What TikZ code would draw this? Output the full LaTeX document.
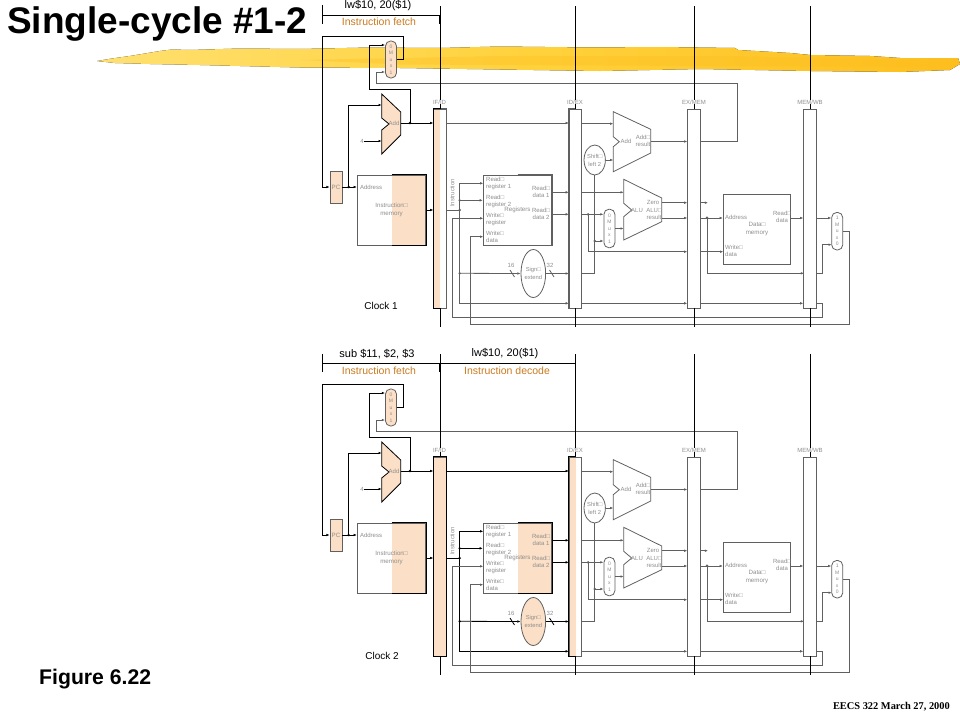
\documentclass[tikz,border=0pt]{standalone}
\usepackage{fontspec}
\setmainfont{Liberation Sans}
\newfontfamily\timesfont{Liberation Serif}
\usepackage{xcolor}
\usetikzlibrary{shapes.geometric, arrows.meta}
\definecolor{peach}{HTML}{FBDFC6}
\definecolor{wiregray}{HTML}{606060}
\definecolor{labgray}{HTML}{8E8E8E}
\definecolor{stagetext}{HTML}{C97A1E}
\definecolor{brushleft}{HTML}{FFE070}
\definecolor{brushmid}{HTML}{FFD23C}
\definecolor{brushright}{HTML}{FDBE1E}
\tikzstyle{line}=[line width=0.8pt,draw=wiregray]
\tikzstyle{wire}=[line,-{Latex[length=3.2pt,width=2.6pt]}]
\tikzstyle{dot}=[circle,fill=wiregray,draw=none,inner sep=0pt,minimum size=2.6pt]
\tikzstyle{lab}=[text=labgray,inner sep=0pt,align=center,font=\fontsize{6}{7}\selectfont]
\tikzstyle{muxlab}=[line,rounded corners=5pt,fill=peach,text=labgray,inner sep=0pt,align=center,minimum width=11pt,font=\fontsize{5}{6.5}\selectfont]
\tikzstyle{block}=[line,inner sep=0pt,text=labgray,align=center,font=\fontsize{6.2}{8}\selectfont]
\tikzstyle{pipereg}=[line,fill=white,inner sep=0pt,minimum width=12.5pt,minimum height=199pt]
\tikzstyle{oval}=[line,ellipse,inner sep=0pt,text=labgray,align=center,font=\fontsize{5.8}{8}\selectfont]
\tikzstyle{headline}=[inner sep=0pt,font=\fontsize{11}{13}\selectfont]
\tikzstyle{stage}=[inner sep=0pt,text=stagetext,font=\fontsize{10.5}{13}\selectfont]
\tikzset{halves/.style 2 args={path picture={
    \fill[#1] (path picture bounding box.north west) rectangle (path picture bounding box.south);
    \fill[#2] (path picture bounding box.north) rectangle (path picture bounding box.south east);}}}

% #1 name prefix, #2 colour of the decode wires, #3 fill of the decode units
\newcommand{\datapath}[3]{
    \node[pipereg,halves={peach}{#3}] (#1ifid) at (440,208.5) {};
    \node[pipereg,halves={#3}{white}] (#1idex) at (575.5,208.5) {};
    \node[pipereg] (#1exmem) at (694,208.5) {};
    \node[pipereg] (#1memwb) at (810,208.5) {};
    \node[lab,fill=white] (#1ifidlab) at (439.5,102) {IF/ID};
    \node[lab,fill=white] (#1idexlab) at (575,102) {ID/EX};
    \node[lab,fill=white] (#1exmemlab) at (694,102) {EX/MEM};
    \node[lab,fill=white] (#1memwblab) at (810,102) {MEM/WB};
    \draw[draw=black,line width=0.8pt] (#1ifid.north) -- (#1ifid.north west) -- (#1ifid.south west) -- (#1ifid.south);
    \draw[line,#2] (#1ifid.north) -- (#1ifid.north east) -- (#1ifid.south east) -- (#1ifid.south);
    \draw[line,#2] (#1idex.north) -- (#1idex.north west) -- (#1idex.south west) -- (#1idex.south);

    \node[block,fill=peach,minimum width=12pt,minimum height=32pt] (#1pc) at (336,187) {PC};
    \node[block,halves={white}{peach},minimum width=68.5pt,minimum height=70pt] (#1imem) at (391.5,210) {Instruction□\\memory};
    \node[block,halves={white}{#3},minimum width=68.5pt,minimum height=70pt] (#1regs) at (517.5,210.2) {Registers};
    \node[block,minimum width=67.5pt,minimum height=70pt] (#1dmem) at (757,229.3) {Data□\\memory};
    \node[muxlab,minimum height=37pt] (#1muxif) at (391,59.5) {0\\M\\u\\x\\1};
    \node[muxlab,minimum height=38.5pt,fill=white] (#1muxalu) at (609.4,228.5) {0\\M\\u\\x\\1};
    \node[muxlab,minimum height=37.5pt,fill=white] (#1muxwb) at (837.2,231.2) {1\\M\\u\\x\\0};
    \node[oval,fill=#3,minimum width=22pt,minimum height=48pt] (#1sign) at (533.3,273.5) {Sign□\\extend};
    \node[oval,fill=white,minimum width=19pt,minimum height=30pt] (#1shift) at (594.7,160) {Shift□\\left 2};
    \draw[draw=black,line width=0.8pt] (#1imem.north) -- (#1imem.north east) -- (#1imem.south east) -- (#1imem.south);
    \draw[line,#2] (#1regs.north) -- (#1regs.north east) -- (#1regs.south east) -- (#1regs.south);

    \draw[draw=black,line width=0.8pt,fill=peach] (381.7,94) -- (400.7,112) -- (400.7,135) -- (381.7,154) -- (381.7,130) -- (389,124) -- (381.7,118) -- cycle;
    \draw[line] (613.3,111.7) -- (650.7,129.3) -- (650.7,153) -- (613.3,171.7) -- (613.3,146.7) -- (619.3,141.7) -- (613.3,136.7) -- cycle;
    \draw[line] (623.7,179.3) -- (661.7,198) -- (661.7,221.7) -- (623.7,240) -- (623.7,216.7) -- (631.7,210) -- (623.7,203.3) -- cycle;

    \node[lab] (#1addiflab) at (394,123) {Add};
    \node[lab] (#1addexlab) at (626,141) {Add};
    \node[lab] (#1addreslab) at (643,141) {Add□\\result};
    \node[lab] (#1alulab) at (637,210) {ALU};
    \node[lab] (#1zerolab) at (653,202) {Zero};
    \node[lab] (#1alureslab) at (654,213.5) {ALU□\\result};
    \node[lab] (#1four) at (362,141) {4};
    \node[lab] (#1addrlab) at (371,187) {Address};
    \node[lab,anchor=west,align=left] (#1rr1lab) at (486,183) {Read□\\register 1};
    \node[lab,anchor=west,align=left] (#1rr2lab) at (486,201) {Read□\\register 2};
    \node[lab,anchor=west,align=left] (#1wrlab) at (486,219) {Write□\\register};
    \node[lab,anchor=west,align=left] (#1wdlab) at (486,236.5) {Write□\\data};
    \node[lab] (#1rd1lab) at (541,192) {Read□\\data 1};
    \node[lab] (#1rd2lab) at (541,214) {Read□\\data 2};
    \node[lab,rotate=90] (#1instlab) at (452.3,193) {Instruction};
    \node[lab] (#1b16) at (511,265) {16};
    \node[lab] (#1b32) at (550,265) {32};
    \node[lab] (#1maddr) at (736,217) {Address};
    \node[lab,anchor=west,align=left] (#1mwd) at (725,250.5) {Write□\\data};
    \node[lab] (#1mrd) at (782,217) {Read□\\data};

    \coordinate (#1addifa) at (381.7,105);
    \coordinate (#1addifb) at (381.7,141);
    \coordinate (#1addifout) at (400.7,123);
    \coordinate (#1addexa) at (613.3,123.7);
    \coordinate (#1addexb) at (613.3,160);
    \coordinate (#1addexout) at (650.7,141.5);
    \coordinate (#1alua) at (623.7,192.3);
    \coordinate (#1alub) at (623.7,228.5);
    \coordinate (#1zero) at (661.7,202.7);
    \coordinate (#1zeroend) at (708,202.7);
    \coordinate (#1res) at (661.7,218);
    \coordinate (#1pcadd) at (369.7,89);
    \coordinate (#1muxa) at (385,45);
    \coordinate (#1muxb) at (385,72);
    \coordinate (#1mo) at (403.5,36.5);
    \coordinate (#1loop) at (322,36.5);
    \coordinate (#1ret) at (737,83);
    \coordinate (#1retl) at (376.5,83);
    \coordinate (#1rr1) at (483.3,183.3);
    \coordinate (#1trbot) at (459.7,303.3);
    \coordinate (#1rd1) at (551.7,192.3);
    \coordinate (#1rd2) at (551.7,214.3);
    \coordinate (#1wd) at (723.3,251.7);
    \coordinate (#1rowb) at (804,273.3);
    \coordinate (#1wbk) at (822.7,244.7);
    \coordinate (#1muxwbb) at (831.7,244.7);
    \coordinate (#1wdr) at (849.7,324.5);
    \coordinate (#1wdl) at (470.3,324.5);
    \coordinate (#1wdata) at (483.3,236.7);
    \coordinate (#1wrr) at (822.7,317.3);
    \coordinate (#1wrl) at (452.3,317.3);
    \coordinate (#1wreg) at (483.3,218.3);

    \node[dot,fill=black] (#1jpc) at (348.7,187) {};
    \node[dot,fill=black] (#1jadd) at (410,123) {};
    \node[dot,fill=#2] (#1jinst) at (459.7,210) {};
    \node[dot,fill=#2] (#1jread) at (459.7,200.3) {};
    \node[dot,fill=#2] (#1jsign) at (459.7,273.3) {};
    \node[dot] (#1jrd) at (588,214.3) {};
    \node[dot] (#1jimm) at (594.7,241) {};
    \node[dot] (#1jres) at (707,217.7) {};

    % fetch
    \draw[wire,black] (#1muxif.east) -| (#1mo) -- (#1loop) |- (#1pc.west);
    \draw[wire,black] (#1pc) -- (#1imem.west |- #1pc);
    \draw[wire,black] (#1jpc.center) |- (#1addifa);
    \draw[wire,black] (#1four) -- (#1addifb);
    \draw[wire,black] (#1addifout) -- (#1ifid.west |- #1addifout);
    \draw[wire,black] (#1jadd.center) |- (#1pcadd) |- (#1muxa);
    \draw[wire,black] (#1imem.east) -- (#1ifid.west |- #1imem);

    % decode
    \draw[wire,#2] (#1ifid.east |- #1addifout) -- (#1idex.west |- #1addifout);
    \draw[line,#2] (#1ifid.east |- #1jinst) -- (#1jinst.center);
    \draw[wire,#2] (#1jinst.center) |- (#1rr1);
    \draw[wire,#2] (#1jread.center) -- (#1regs.west |- #1jread);
    \draw[wire,#2] (#1jinst.center) |- (#1idex.west |- #1trbot);
    \draw[wire,#2] (#1jsign.center) -- (#1sign.west);
    \draw[wire,#2] (#1sign.east) -- (#1idex.west |- #1sign);
    \draw[wire,#2] (#1rd1) -- (#1idex.west |- #1rd1);
    \draw[wire,#2] (#1rd2) -- (#1idex.west |- #1rd2);
    \draw[line,#2] (510,270) -- (514.5,277);
    \draw[line,#2] (549.5,270) -- (554,277);

    % execute
    \draw[wire] (#1idex.east |- #1addexa) -- (#1addexa);
    \draw[wire] (#1idex.east |- #1rd1) -- (#1alua);
    \draw[wire] (#1idex.east |- #1rd2) -- (#1muxalu.west |- #1rd2);
    \draw[wire] (#1jrd.center) |- (#1exmem.west |- #1wd);
    \draw[line] (#1idex.east |- #1jsign) -| (#1shift.south);
    \draw[wire] (#1jimm.center) -- (#1muxalu.west |- #1jimm);
    \draw[wire] (#1shift.east) -- (#1addexb);
    \draw[wire] (#1muxalu.east) -- (#1alub);
    \draw[wire] (#1addexout) -- (#1exmem.west |- #1addexout);
    \draw[wire] (#1zero) -- (#1exmem.west |- #1zero);
    \draw[wire] (#1res) -- (#1exmem.west |- #1res);
    \draw[wire] (#1idex.east |- #1trbot) -- (#1exmem.west |- #1trbot);
    \draw[wire] (#1exmem.east |- #1addexout) -| (#1ret) -- (#1retl) |- (#1muxb);

    % memory and write back
    \draw[wire] (#1exmem.east |- #1zero) -- (#1zeroend);
    \draw[wire] (#1exmem.east |- #1res) -- (#1dmem.west |- #1res);
    \draw[wire] (#1exmem.east |- #1wd) -- (#1wd);
    \draw[wire] (#1jres.center) |- (#1rowb);
    \draw[wire] (#1exmem.east |- #1trbot) -- (#1memwb.west |- #1trbot);
    \draw[wire] (#1dmem.east |- #1res) -- (#1memwb.west |- #1res);
    \draw[wire] (#1memwb.east |- #1res) -- (#1muxwb.west |- #1res);
    \draw[wire] (#1memwb.east |- #1rowb) -| (#1wbk) -- (#1muxwbb);
    \draw[wire] (#1muxwb.east) -| (#1wdr) -- (#1wdl) |- (#1wdata);
    \draw[wire] (#1memwb.east |- #1trbot) -| (#1wrr) -- (#1wrl) |- (#1wreg);

    % pipeline stage lines
    \draw[draw=black,line width=0.8pt] (#1ifid.north |- #1ifidlab.south) -- (#1ifid.north);
    \draw[draw=black,line width=0.8pt] (#1idex.north |- #1idexlab.south) -- (#1idex.north);
    \draw[draw=black,line width=0.8pt] (#1exmem.north |- #1exmemlab.south) -- (#1exmem.north);
    \draw[draw=black,line width=0.8pt] (#1memwb.north |- #1memwblab.south) -- (#1memwb.north);
    \draw[draw=black,line width=0.8pt] (#1ifid.north |- 0,6) -- (#1ifidlab.north -| #1ifid.north);
    \draw[draw=black,line width=0.8pt] (#1idex.north |- 0,6) -- (#1idexlab.north -| #1idex.north);
    \draw[draw=black,line width=0.8pt] (#1exmem.north |- 0,6) -- (#1exmemlab.north);
    \draw[draw=black,line width=0.8pt] (#1memwb.north |- 0,6) -- (#1memwblab.north);
    \draw[draw=black,line width=0.8pt] (#1ifid.south) -- (#1ifid.south |- 0,327);
    \draw[draw=black,line width=0.8pt] (#1idex.south) -- (#1idex.south |- 0,327);
    \draw[draw=black,line width=0.8pt] (#1exmem.south) -- (#1exmem.south |- 0,327);
    \draw[draw=black,line width=0.8pt] (#1memwb.south) -- (#1memwb.south |- 0,327);
}

\begin{document}
\begin{tikzpicture}[x=1pt,y=-1pt]
    \useasboundingbox (0,0) rectangle (960,720);

    % yellow brush stroke behind the title
    \fill[left color=brushleft,right color=brushright,middle color=brushmid] (97,61) -- (112,58.5) -- (130,56) -- (160,51) -- (172,49.5) -- (190,50) -- (240,48.5) -- (300,49) -- (370,47.5) -- (440,48) -- (500,46.5) -- (590,47.5) -- (660,47) -- (735,48) -- (738,50) -- (790,53) -- (810,55) -- (870,56) -- (900,58) -- (958,58) -- (960,64) -- (950,70) -- (900,72) -- (810,71) -- (700,69) -- (600,71) -- (500,69.5) -- (400,68) -- (300,67.5) -- (200,65) -- (150,64) -- (115,63) -- cycle;
    \fill[brushright,opacity=0.35] (300,60) -- (500,56) -- (730,56) -- (955,62) -- (945,67) -- (700,66) -- (400,64.5) -- cycle;

    \node[anchor=base west,inner sep=0pt,font=\fontsize{37}{40}\selectfont\bfseries] (title) at (7,33) {Single-cycle \#1-2};

    % first clock
    \node[headline] (lw1) at (378,6) {lw\$10, 20(\$1)};
    \node[stage] (fetch1) at (379,22) {Instruction fetch};
    \coordinate (t1a) at (322,15);
    \coordinate (t1b) at (440,15);
    \draw[draw=black,line width=0.8pt] (t1a |- 0,5) -- (t1a |- 0,24);
    \draw[draw=black,line width=0.8pt] (t1a) -- (t1b);
    \draw[draw=black,line width=1.4pt] (t1b) -- (t1b |- 0,24);
    \datapath{a}{wiregray}{white}
    \node[inner sep=0pt,font=\fontsize{10}{12}\selectfont] (clock1) at (381,306) {Clock 1};

    % second clock
    \node[headline] (sub2) at (377,354) {sub \$11, \$2, \$3};
    \node[headline] (lw2) at (505,354) {lw\$10, 20(\$1)};
    \node[stage] (fetch2) at (379,371) {Instruction fetch};
    \node[stage] (decode2) at (507,371) {Instruction decode};
    \coordinate (t2a) at (322,363);
    \coordinate (t2b) at (440,363);
    \coordinate (t2c) at (575,363);
    \draw[draw=black,line width=0.8pt] (t2a |- 0,354) -- (t2a |- 0,372);
    \draw[draw=black,line width=0.8pt] (t2a) -- (t2c);
    \draw[draw=black,line width=1.4pt] (t2b) -- (t2b |- 0,372);
    \begin{scope}[yshift=-348pt]
        \datapath{b}{black}{peach}
    \end{scope}
    \node[inner sep=0pt,font=\fontsize{10}{12}\selectfont] (clock2) at (382,656) {Clock 2};

    \node[anchor=base west,inner sep=0pt,font=\fontsize{21.2}{24}\selectfont\bfseries] (figure) at (39,684) {Figure 6.22};
    \node[anchor=base east,inner sep=0pt,font=\fontsize{10.4}{12}\selectfont\timesfont\bfseries] (footer) at (950,709) {EECS 322 March 27, 2000};
\end{tikzpicture}
\end{document}
